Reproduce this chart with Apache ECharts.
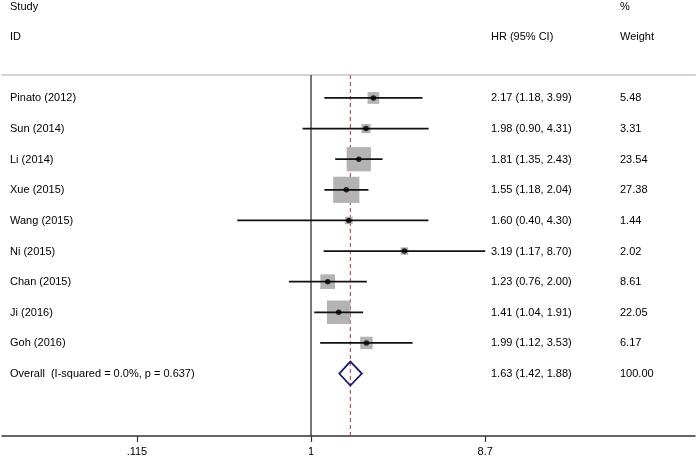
<!DOCTYPE html>
<html>
<head>
<meta charset="utf-8">
<script src="https://cdn.jsdelivr.net/npm/echarts@6/dist/echarts.min.js"></script>
<style>html,body{margin:0;padding:0;background:#fff}#c{width:697px;height:461px}</style>
</head>
<body>
<div id="c"></div>
<script>
// ---- data ----
var studies = ['Pinato (2012)','Sun (2014)','Li (2014)','Xue (2015)','Wang (2015)','Ni (2015)','Chan (2015)','Ji (2016)','Goh (2016)'];
var hr      = [2.17, 1.98, 1.81, 1.55, 1.60, 3.19, 1.23, 1.41, 1.99];
var lower   = [1.18, 0.90, 1.35, 1.18, 0.40, 1.17, 0.76, 1.04, 1.12];
var upper   = [3.99, 4.31, 2.43, 2.04, 4.30, 8.70, 2.00, 1.91, 3.53];
var weights = [5.48, 3.31, 23.54, 27.38, 1.44, 2.02, 8.61, 22.05, 6.17];
var overallLabel = 'Overall  (I-squared = 0.0%, p = 0.637)';
var overallHR = 1.63, overallLow = 1.42, overallHigh = 1.88, overallWeight = 100.00;
var tickValues = [0.115, 1, 8.7];
var tickLabels = ['.115', '1', '8.7'];
var headerStudy = ['Study', 'ID'];
var headerHR = 'HR (95% CI)';
var headerWeight = ['%', 'Weight'];

// ---- helpers ----
var ln = Math.log;
function f2(v){ return v.toFixed(2); }
var FONT = '11px "Liberation Sans", Arial, sans-serif';
var TXT = '#000';
var COL_NAME = 10, COL_HR = 491, COL_W = 620;

var rows = studies.map(function(s, i){
  return [ln(hr[i]), i, ln(lower[i]), ln(upper[i]), weights[i]];
});
var nRows = studies.length;
var overallRow = nRows;

var textRows = studies.map(function(s, i){
  return [0, i, s, f2(hr[i]) + ' (' + f2(lower[i]) + ', ' + f2(upper[i]) + ')', f2(weights[i])];
});
textRows.push([0, overallRow, overallLabel, f2(overallHR) + ' (' + f2(overallLow) + ', ' + f2(overallHigh) + ')', f2(overallWeight)]);

var chart = echarts.init(document.getElementById('c'), null, {renderer: 'canvas'});

var option = {
  animation: false,
  backgroundColor: '#fff',
  grid: {left: 2, right: 2, top: 75, bottom: 25, containLabel: false},
  xAxis: [{
    type: 'value',
    min: -3.839, max: 4.770,
    position: 'bottom',
    splitLine: {show: false},
    axisLine: {show: true, onZero: false, lineStyle: {color: '#333', width: 1.5}},
    axisTick: {show: true, length: 6, customValues: tickValues.map(ln), lineStyle: {color: '#333', width: 1.2}},
    axisLabel: {
      show: true, margin: 10, color: TXT, fontFamily: '"Liberation Sans", Arial, sans-serif', fontSize: 11,
      customValues: tickValues.map(ln),
      formatter: function(v){
        for (var k = 0; k < tickValues.length; k++) if (Math.abs(ln(tickValues[k]) - v) < 1e-6) return tickLabels[k];
        return '';
      }
    }
  }, {
    type: 'value',
    min: -3.839, max: 4.770,
    position: 'top',
    splitLine: {show: false},
    axisLine: {show: true, onZero: false, lineStyle: {color: '#d4d4d4', width: 2}},
    axisTick: {show: false}, axisLabel: {show: false}
  }],
  yAxis: {
    type: 'value', inverse: true,
    min: -0.75, max: 11.04,
    show: false
  },
  series: [
    {
      type: 'line', xAxisIndex: 0, data: [[0, -0.75], [0, 11.04]],
      symbol: 'none', lineStyle: {color: '#222', width: 1.2}, z: 1, silent: true
    },
    {
      type: 'line', xAxisIndex: 0, data: [[ln(overallHR), -0.75], [ln(overallHR), 11.04]],
      symbol: 'none', lineStyle: {color: '#b8545c', width: 1.2, type: [4, 3]}, z: 2, silent: true
    },
    {
      type: 'scatter', xAxisIndex: 0, symbol: 'rect',
      data: rows.map(function(r){ return [r[0], r[1], r[4]]; }),
      symbolSize: function(d){ return Math.max(7.5, 5.0 * Math.sqrt(d[2])); },
      itemStyle: {color: '#b3b3b3', opacity: 1}, z: 3, silent: true
    },
    {
      type: 'custom', xAxisIndex: 0, z: 4, silent: true,
      data: rows,
      renderItem: function(params, api){
        var a = api.coord([api.value(2), api.value(1)]);
        var b = api.coord([api.value(3), api.value(1)]);
        return {type: 'line', shape: {x1: a[0], y1: a[1], x2: b[0], y2: b[1]},
          style: {stroke: '#111', lineWidth: 1.8}};
      }
    },
    {
      type: 'scatter', xAxisIndex: 0, symbol: 'circle', symbolSize: 5.5,
      data: rows.map(function(r){ return [r[0], r[1]]; }),
      itemStyle: {color: '#000'}, z: 5, silent: true
    },
    {
      type: 'custom', xAxisIndex: 0, z: 6, silent: true,
      data: [[ln(overallLow), ln(overallHR), ln(overallHigh), overallRow]],
      renderItem: function(params, api){
        var y = api.value(3);
        var l = api.coord([api.value(0), y]);
        var c = api.coord([api.value(1), y]);
        var r = api.coord([api.value(2), y]);
        var h = 12;
        return {type: 'polygon',
          shape: {points: [[l[0], l[1]], [c[0], c[1] - h], [r[0], r[1]], [c[0], c[1] + h]]},
          style: {fill: 'none', stroke: '#1c1c6e', lineWidth: 1.8}};
      }
    },
    {
      type: 'custom', xAxisIndex: 0, z: 7, silent: true,
      data: textRows,
      renderItem: function(params, api){
        var p = api.coord([0, api.value(1)]);
        var d = textRows[params.dataIndex];
        function t(x, s){ return {type: 'text', style: {x: x, y: p[1] + 0.5, text: s, font: FONT, fill: TXT, textAlign: 'left', textVerticalAlign: 'middle'}}; }
        return {type: 'group', children: [t(COL_NAME, d[2]), t(COL_HR, d[3]), t(COL_W, d[4])]};
      }
    }
  ],
  graphic: [
    {type: 'text', left: COL_NAME, top: 1, style: {text: headerStudy[0], font: FONT, fill: TXT}},
    {type: 'text', left: COL_NAME, top: 31, style: {text: headerStudy[1], font: FONT, fill: TXT}},
    {type: 'text', left: COL_HR, top: 31, style: {text: headerHR, font: FONT, fill: TXT}},
    {type: 'text', left: COL_W, top: 1, style: {text: headerWeight[0], font: FONT, fill: TXT}},
    {type: 'text', left: COL_W, top: 31, style: {text: headerWeight[1], font: FONT, fill: TXT}}
  ]
};
chart.setOption(option);
</script>
</body>
</html>
